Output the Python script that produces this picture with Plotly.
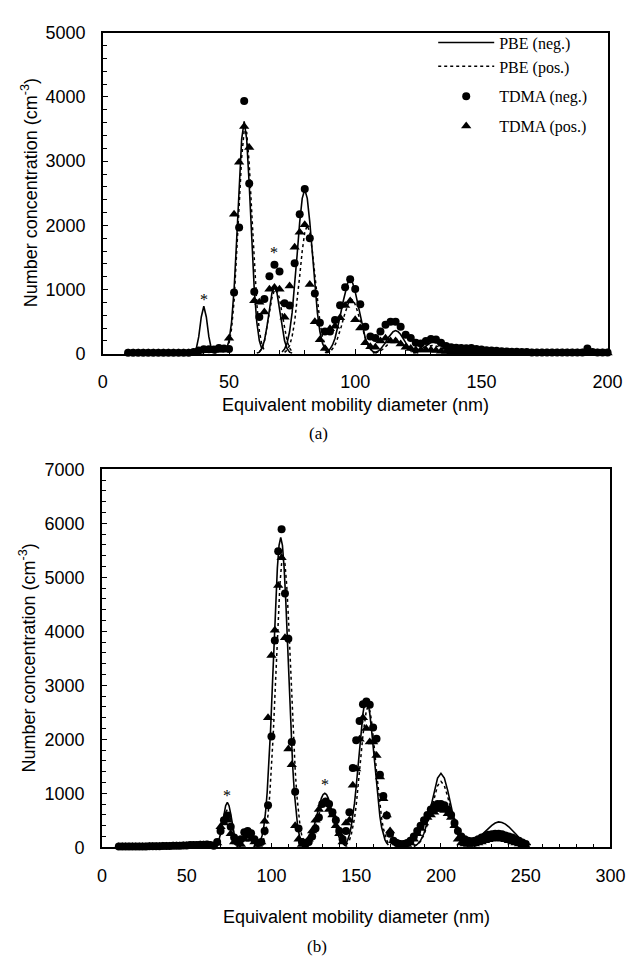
import plotly.graph_objects as go

# ---------------- Panel (a) data ----------------
a_x = [10, 12, 14, 16, 18, 20, 22, 24, 26, 28, 30, 32, 34, 36, 38, 40, 42, 44, 46, 48,
       50, 52, 54, 56, 58, 60, 62, 64, 66, 68, 70, 72, 74, 76, 78, 80, 82, 84, 86, 88,
       90, 92, 94, 96, 98, 100, 102, 104, 106, 108, 110, 112, 114, 116, 118, 120, 122, 124, 126, 128,
       130, 132, 134, 136, 138, 140, 142, 144, 146, 148, 150, 152, 154, 156, 158, 160, 162, 164, 166, 168,
       170, 172, 174, 176, 178, 180, 182, 184, 186, 188, 190, 192, 194, 196, 198, 200]
a_tdma_neg = [15, 15, 15, 15, 15, 15, 15, 15, 15, 15, 15, 15, 15, 25, 50, 70, 70, 65, 90, 80,
              75, 954, 1968, 3938, 2653, 964, 574, 852, 1207, 1385, 1283, 787, 750, 1411, 2172, 2568, 1801, 939, 482, 345,
              345, 525, 755, 1035, 1160, 1010, 770, 420, 270, 245, 345, 450, 500, 500, 420, 295, 245, 170, 160, 200,
              230, 220, 170, 120, 100, 95, 90, 85, 90, 75, 65, 55, 50, 45, 40, 35, 30, 30, 25, 25,
              20, 20, 20, 20, 20, 20, 20, 20, 20, 20, 20, 80, 25, 20, 20, 20]
a_tdma_pos = [10, 10, 10, 10, 10, 10, 10, 10, 10, 10, 10, 10, 10, 10, 40, 45, 50, 50, 55, 60,
              243, 2172, 2983, 3542, 3212, 827, 802, 650, 1005, 1030, 1005, 570, 1054, 1660, 1892, 2009, 1080, 498, 218, 80,
              390, 430, 560, 750, 820, 530, 400, 170, 110, 100, 200, 240, 200, 200, 150, 100, 80, 60, 60, 60,
              60, 50, 40, 35, 30, 30, 25, 25, 20, 20, 20, 15, 15, 15, 15, 15, 15, 10, 10, 10,
              10, 10, 10, 10, 10, 10, 10, 10, 10, 10, 10, 10, 10, 10, 10, 10]

# PBE curves (each peak is drawn as its own segment; None separates segments)
a_pbe_neg_x = [35, 36, 37, 38, 39, 40, 41, 42, 43, 44, 45, None,
               49, 50, 51, 52, 53, 54, 55, 56, 57, 58, 59, 60, 61, 62, 63, None,
               61, 62, 63, 64, 65, 66, 67, 68, 69, 70, 71, 72, 73, 74, 75, None,
               71, 72, 73, 74, 75, 76, 77, 78, 79, 80, 81, 82, 83, 84, 85, 86, 87, 88, 89, None,
               88, 89, 90, 91, 92, 93, 94, 95, 96, 97, 98, 99, 100, 101, 102, 103, 104, 105, 106, 107, 108, None,
               107, 108, 109, 110, 111, 112, 113, 114, 115, 116, 117, 118, 119, 120, 121, 122, 123, 124, 125, None,
               123, 124, 125, 126, 127, 128, 129, 130, 131, 132, 133, 134, 135, 136, 137, 138, 139]
a_pbe_neg_y = [0, 13, 74, 266, 573, 740, 573, 266, 74, 13, 0, None,
               72, 205, 490, 1000, 1760, 2630, 3340, 3620, 3340, 2630, 1760, 1000, 490, 205, 72, None,
               7, 25, 80, 201, 415, 695, 947, 1050, 947, 695, 415, 201, 80, 25, 7, None,
               28, 72, 168, 346, 640, 1055, 1550, 2050, 2420, 2560, 2420, 2050, 1550, 1055, 640, 346, 168, 72, 28, None,
               15, 34, 72, 137, 242, 393, 576, 778, 964, 1101, 1150, 1101, 964, 778, 576, 393, 242, 137, 72, 34, 15, None,
               9, 19, 38, 69, 114, 173, 246, 300, 344, 360, 344, 300, 246, 173, 114, 69, 38, 19, 9, None,
               13, 25, 42, 65, 93, 124, 154, 173, 180, 173, 154, 124, 93, 65, 42, 25, 13]
a_pbe_pos_x = [50, 51, 52, 53, 54, 55, 56, 57, 58, 59, 60, 61, 62, 63, 64, None,
               62, 63, 64, 65, 66, 67, 68, 69, 70, 71, 72, 73, 74, 75, None,
               72, 73, 74, 75, 76, 77, 78, 79, 80, 81, 82, 83, 84, 85, 86, 87, 88, 89, 90, None,
               88.5, 89.5, 90.5, 91.5, 92.5, 93.5, 94.5, 95.5, 96.5, 97.5, 98.5, 99.5, 100.5, 101.5, 102.5, 103.5, 104.5, 105.5, 106.5, 107.5, 108.5, None,
               108, 109, 110, 111, 112, 113, 114, 115, 116, 117, 118, 119, 120, 121, 122, 123, 124, None,
               123, 124, 125, 126, 127, 128, 129, 130, 131, 132, 133, 134, 135, 136, 137, 138, 139]
a_pbe_pos_y = [160, 390, 820, 1480, 2300, 3050, 3480, 3450, 2960, 2200, 1420, 780, 360, 140, 50, None,
               30, 80, 190, 390, 640, 870, 990, 990, 860, 630, 390, 200, 85, 30, None,
               22, 56, 130, 270, 500, 825, 1210, 1600, 1890, 2000, 1890, 1600, 1210, 825, 500, 270, 130, 56, 22, None,
               11, 25, 53, 101, 179, 290, 426, 575, 712, 814, 850, 814, 712, 575, 426, 290, 179, 101, 53, 25, 11, None,
               12, 24, 44, 73, 111, 157, 192, 220, 230, 220, 192, 157, 111, 73, 44, 24, 12, None,
               9, 18, 30, 47, 67, 90, 111, 125, 130, 125, 111, 90, 67, 47, 30, 18, 9]

# ---------------- Panel (b) data ----------------
b_x = [10, 12, 14, 16, 18, 20, 22, 24, 26, 28, 30, 32, 34, 36, 38, 40, 42, 44, 46, 48,
       50, 52, 54, 56, 58, 60, 62, 64, 66, 68, 70, 72, 74, 76, 78, 80, 82, 84, 86, 88,
       90, 92, 94, 96, 98, 100, 102, 104, 106, 108, 110, 112, 114, 116, 118, 120, 122, 124, 126, 128,
       130, 132, 134, 136, 138, 140, 142, 144, 146, 148, 150, 152, 154, 156, 158, 160, 162, 164, 166, 168,
       170, 172, 174, 176, 178, 180, 182, 184, 186, 188, 190, 192, 194, 196, 198, 200, 202, 204, 206, 208,
       210, 212, 214, 216, 218, 220, 222, 224, 226, 228, 230, 232, 234, 236, 238, 240, 242, 244, 246, 248, 250]
b_tdma_neg = [15, 15, 15, 15, 15, 15, 15, 15, 15, 20, 20, 20, 20, 25, 25, 25, 30, 30, 30, 35,
              35, 40, 40, 40, 45, 45, 50, 40, 30, 100, 300, 500, 590, 380, 180, 100, 150, 280, 300, 260,
              150, 80, 100, 300, 780, 2050, 3830, 5480, 5890, 4700, 3860, 1950, 1030, 350, 100, 50, 100, 200, 350, 550,
              800, 850, 800, 650, 500, 300, 150, 300, 650, 1470, 1980, 2340, 2650, 2700, 2640, 2220, 2010, 1345, 950, 590,
              250, 120, 80, 60, 60, 80, 120, 200, 300, 400, 500, 600, 700, 760, 800, 800, 780, 700, 600, 450,
              300, 200, 150, 120, 110, 120, 150, 180, 200, 230, 240, 250, 250, 240, 220, 200, 180, 150, 120, 90, 60]
b_tdma_pos = [10, 10, 10, 10, 10, 10, 10, 10, 10, 15, 15, 15, 15, 20, 20, 20, 25, 25, 25, 30,
              30, 30, 35, 35, 40, 40, 40, 35, 25, 80, 380, 450, 500, 250, 100, 100, 50, 150, 200, 150,
              100, 50, 100, 480, 2400, 3550, 4020, 4850, 5360, 3880, 1820, 1530, 400, 150, 50, 80, 150, 300, 500, 700,
              800, 820, 700, 600, 400, 250, 100, 450, 500, 1150, 1450, 2000, 2400, 2200, 1950, 1950, 1700, 1300, 900, 600,
              300, 120, 80, 50, 50, 50, 80, 150, 250, 350, 450, 550, 600, 650, 700, 700, 680, 620, 550, 400,
              150, 80, 60, 50, 50, 60, 80, 100, 120, 140, 150, 160, 160, 150, 140, 120, 100, 80, 60, 40, 30]

b_pbe_neg_x = [66, 67, 68, 69, 70, 71, 72, 73, 74, 75, 76, 77, 78, 79, 80, 81, 82, None,
               91.5, 92.5, 93.5, 94.5, 95.5, 96.5, 97.5, 98.5, 99.5, 100.5, 101.5, 102.5, 103.5, 104.5, 105.5,
               106.5, 107.5, 108.5, 109.5, 110.5, 111.5, 112.5, 113.5, 114.5, 115.5, 116.5, 117.5, 118.5, 119.5, None,
               118.5, 119.5, 120.5, 121.5, 122.5, 123.5, 124.5, 125.5, 126.5, 127.5, 128.5, 129.5, 130.5, 131.5,
               132.5, 133.5, 134.5, 135.5, 136.5, 137.5, 138.5, 139.5, 140.5, 141.5, 142.5, 143.5, 144.5, None,
               143, 144, 145, 146, 147, 148, 149, 150, 151, 152, 153, 154, 155, 156, 157, 158, 159, 160, 161,
               162, 163, 164, 165, 166, 167, 168, 169, None,
               184, 186, 188, 190, 192, 194, 196, 198, 200, 202, 204, 206, 208, 210, 212, 214, 216, 218, None,
               218, 220, 222, 224, 226, 228, 230, 232, 234, 236, 238, 240, 242, 244, 246, 248, 250, 252, 253]
b_pbe_neg_y = [7, 22, 58, 130, 253, 425, 617, 770, 830, 770, 617, 425, 253, 130, 58, 22, 7, None,
               27, 58, 115, 215, 380, 640, 1020, 1530, 2170, 2940, 3790, 4540, 5170, 5590, 5740,
               5590, 5170, 4540, 3790, 2940, 2170, 1530, 1020, 640, 380, 215, 115, 58, 27, None,
               18, 33, 57, 94, 147, 220, 314, 427, 554, 685, 808, 910, 977, 1000,
               977, 910, 808, 685, 554, 427, 314, 220, 147, 94, 57, 33, 18, None,
               43, 79, 138, 232, 371, 565, 817, 1125, 1477, 1844, 2193, 2481, 2673, 2740, 2673, 2481, 2193, 1844, 1477,
               1125, 817, 565, 371, 232, 138, 79, 43, None,
               20, 53, 126, 260, 475, 760, 1050, 1280, 1370, 1280, 1050, 760, 475, 260, 126, 60, 70, 100, None,
               100, 130, 175, 230, 290, 350, 405, 450, 470, 460, 430, 380, 320, 250, 180, 120, 80, 55, 45]
b_pbe_pos_x = [67, 68, 69, 70, 71, 72, 73, 74, 75, 76, 77, 78, 79, 80, 81, None,
               93, 94, 95, 96, 97, 98, 99, 100, 101, 102, 103, 104, 105, 106, 107,
               108, 109, 110, 111, 112, 113, 114, 115, 116, 117, 118, 119, 120, None,
               119, 120, 121, 122, 123, 124, 125, 126, 127, 128, 129, 130, 131, 132,
               133, 134, 135, 136, 137, 138, 139, 140, 141, 142, 143, 144, 145, None,
               144, 145, 146, 147, 148, 149, 150, 151, 152, 153, 154, 155, 156, 157, 158, 159, 160, 161, 162,
               163, 164, 165, 166, 167, 168, 169, 170, None,
               184, 186, 188, 190, 192, 194, 196, 198, 200, 202, 204, 206, 208, 210, 212, 214, 216]
b_pbe_pos_y = [20, 52, 115, 220, 360, 520, 650, 700, 650, 520, 360, 220, 115, 52, 20, None,
               25, 55, 110, 205, 360, 600, 960, 1440, 2040, 2760, 3560, 4270, 4860, 5250, 5400,
               5250, 4860, 4270, 3560, 2760, 2040, 1440, 960, 600, 360, 205, 110, 55, None,
               16, 30, 51, 85, 132, 198, 283, 384, 499, 617, 727, 819, 879, 900,
               879, 819, 727, 617, 499, 384, 283, 198, 132, 85, 51, 30, 16, None,
               40, 75, 131, 220, 352, 536, 775, 1068, 1402, 1750, 2081, 2355, 2537, 2600, 2537, 2355, 2081, 1750, 1402,
               1068, 775, 536, 352, 220, 131, 75, 40, None,
               18, 47, 112, 232, 423, 677, 935, 1140, 1220, 1140, 935, 677, 423, 232, 112, 47, 18]

# asterisk marks (x, y)
a_star_x = [40, 68]
a_star_y = [850, 1580]
b_star_x = [73.7, 131.5]
b_star_y = [950, 1160]

W, H = 641, 965
SANS = "Liberation Sans, Arial, sans-serif"
SERIF = "Liberation Serif, Times New Roman, serif"
TICK = 18
TITLE = 18

fig = go.Figure()

def add_panel(xa, ya, px, pneg_x, pneg_y, ppos_x, ppos_y, dneg, dpos, legend):
    fig.add_trace(go.Scatter(x=pneg_x, y=pneg_y, mode="lines", name="PBE (neg.)",
                             line=dict(color="black", width=1.6), xaxis=xa, yaxis=ya,
                             showlegend=legend, legendgroup="lines", connectgaps=False))
    fig.add_trace(go.Scatter(x=ppos_x, y=ppos_y, mode="lines", name="PBE (pos.)",
                             line=dict(color="black", width=1.5, dash="dot"), xaxis=xa, yaxis=ya,
                             showlegend=legend, legendgroup="lines", connectgaps=False))
    fig.add_trace(go.Scatter(x=px, y=dneg, mode="markers", name="TDMA (neg.)",
                             marker=dict(symbol="circle", size=8, color="black"), xaxis=xa, yaxis=ya,
                             showlegend=legend, legendgroup="neg", cliponaxis=False))
    fig.add_trace(go.Scatter(x=px, y=dpos, mode="markers", name="TDMA (pos.)",
                             marker=dict(symbol="triangle-up", size=9, color="black"), xaxis=xa, yaxis=ya,
                             showlegend=legend, legendgroup="pos", cliponaxis=False))

add_panel("x", "y", a_x, a_pbe_neg_x, a_pbe_neg_y, a_pbe_pos_x, a_pbe_pos_y, a_tdma_neg, a_tdma_pos, True)
add_panel("x2", "y2", b_x, b_pbe_neg_x, b_pbe_neg_y, b_pbe_pos_x, b_pbe_pos_y, b_tdma_neg, b_tdma_pos, False)

def axis(rng, dtick, mdtick, domain, anchor, standoff):
    return dict(range=rng, dtick=dtick, domain=domain, anchor=anchor,
                showline=True, linecolor="black", linewidth=1.5, mirror=True,
                ticks="inside", ticklen=5, tickwidth=1, tickcolor="black",
                minor=dict(ticks="inside", ticklen=4, dtick=mdtick, tickcolor="black", tickwidth=1),
                showgrid=False, zeroline=False, ticklabelstandoff=standoff,
                tickfont=dict(family=SANS, size=TICK, color="black"))

fig.update_layout(
    width=W, height=H, margin=dict(l=0, r=0, t=0, b=0),
    paper_bgcolor="white", plot_bgcolor="white",
    xaxis=axis([0, 200], 50, 10, [101 / W, 622 / W], "y", 11),
    yaxis=axis([0, 5000], 1000, 200, [1 - 351 / H, 1 - 23.3 / H], "x", 12),
    xaxis2=axis([0, 300], 50, 10, [100 / W, 625 / W], "y2", 11),
    yaxis2=axis([0, 7000], 1000, 200, [1 - 855 / H, 1 - 469 / H], "x2", 12),
    legend=dict(x=442 / W, y=1 - 16 / H, xanchor="left", yanchor="top",
                font=dict(family=SERIF, size=16, color="black"),
                bgcolor="rgba(0,0,0,0)", itemwidth=56, tracegroupgap=6),
    showlegend=True,
)

def note(text, x, y, size, family, angle=0):
    return dict(text=text, x=x / W, y=1 - y / H, xref="paper", yref="paper",
                xanchor="center", yanchor="middle", textangle=angle, showarrow=False,
                font=dict(family=family, size=size, color="black"))

ann = [
    note("Number concentration (cm<sup>-3</sup>)", 25, 187, TITLE, SANS, -90),
    note("Number concentration (cm<sup>-3</sup>)", 23, 662, TITLE, SANS, -90),
    note("Equivalent mobility diameter (nm)", 361.5, 403, TITLE, SANS),
    note("Equivalent mobility diameter (nm)", 362.5, 926, TITLE, SANS),
    note("(a)", 324, 432, 17, SERIF),
    note("(b)", 322, 956, 17, SERIF),
]
for sx, sy in zip(a_star_x, a_star_y):
    ann.append(dict(text="*", x=sx, y=sy, xref="x", yref="y", showarrow=False,
                    xanchor="center", yanchor="middle",
                    font=dict(family=SERIF, size=16, color="black")))
for sx, sy in zip(b_star_x, b_star_y):
    ann.append(dict(text="*", x=sx, y=sy, xref="x2", yref="y2", showarrow=False,
                    xanchor="center", yanchor="middle",
                    font=dict(family=SERIF, size=16, color="black")))
fig.update_layout(annotations=ann)

fig.write_html("out.html")
